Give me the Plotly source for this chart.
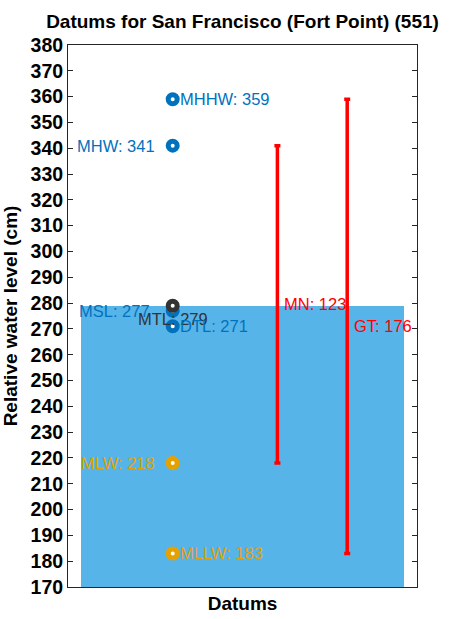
import plotly.graph_objects as go

# Data
datum_names = ["MHHW", "MHW", "MSL", "MTL", "DTL", "MLW", "MLLW"]
datum_values = [359, 341, 277, 279, 271, 218, 183]
datum_colors = ["#0072BD", "#0072BD", "#0072BD", "#333333", "#0072BD", "#E6A100", "#E6A100"]
label_side = ["right", "left", "left", "below", "right", "left", "right"]
range_names = ["MN", "GT"]
range_low = [218, 183]
range_high = [341, 359]
range_values = [123, 176]
bar_value = 279

x_datum = 0.3
x_ranges = [0.6, 0.8]
x_bar = 0.5

fig = go.Figure()
fig.add_trace(go.Bar(x=[x_bar], y=[bar_value - 170], base=[170], width=[0.923],
                     marker=dict(color="#56B4E9", line=dict(width=0)), showlegend=False))

for lo, hi, xr in zip(range_low, range_high, x_ranges):
    mid = (lo + hi) / 2
    fig.add_trace(go.Scatter(x=[xr], y=[mid], mode="markers",
                             marker=dict(size=0.1, color="red"),
                             error_y=dict(type="data", symmetric=True, array=[hi - mid],
                                          color="red", thickness=3.5, width=3),
                             showlegend=False))

for n, v, c in zip(datum_names, datum_values, datum_colors):
    fig.add_trace(go.Scatter(x=[x_datum], y=[v], mode="markers",
                             marker=dict(symbol="circle", size=9, color="white",
                                         line=dict(color=c, width=5)),
                             showlegend=False))

fs = 16.5
annotations = []
for n, v, c, s in zip(datum_names, datum_values, datum_colors, label_side):
    txt = f"{n}: {v}"
    if s == "right":
        annotations.append(dict(x=x_datum, y=v, text=txt, xanchor="left", yanchor="middle",
                                xshift=5, showarrow=False, font=dict(color=c, size=fs)))
    elif s == "left":
        annotations.append(dict(x=x_datum, y=v, text=txt, xanchor="right", yanchor="middle",
                                xshift=-21 if n == "MSL" else -16, showarrow=False,
                                font=dict(color=c, size=fs)))
    else:
        annotations.append(dict(x=x_datum, y=v, text=txt, xanchor="center", yanchor="middle",
                                yshift=-13, showarrow=False, font=dict(color=c, size=fs)))

for n, lo, hi, val, xr in zip(range_names, range_low, range_high, range_values, x_ranges):
    annotations.append(dict(x=xr, y=(lo + hi) / 2, text=f"{n}: {val}", xanchor="left",
                            yanchor="middle", xshift=5, showarrow=False,
                            font=dict(color="red", size=fs)))

fig.update_layout(
    width=450, height=619,
    margin=dict(l=68, r=33, t=45, b=32),
    plot_bgcolor="white", paper_bgcolor="white",
    font=dict(family="Liberation Sans, Arial, sans-serif", color="black"),
    title=dict(text="<b>Datums for San Francisco (Fort Point) (551)</b>", x=0.5, xref="paper",
               xanchor="center", y=0.966, yanchor="middle", font=dict(size=19, color="black")),
    annotations=annotations,
    bargap=0,
)
fig.update_xaxes(range=[0, 1], showticklabels=False, ticks="", showline=True, mirror=True,
                 linecolor="#262626", linewidth=1, showgrid=False, zeroline=False,
                 automargin=False,
                 title=dict(text="<b>Datums</b>", font=dict(size=19), standoff=9))
fig.update_yaxes(range=[170, 380], dtick=10, tick0=170, ticks="inside", ticklen=5,
                 tickcolor="#262626", mirror="ticks", showline=True, linecolor="#262626",
                 linewidth=1, showgrid=False, zeroline=False, automargin=False,
                 tickfont=dict(size=19.5, family="Liberation Sans, Arial, sans-serif"),
                 tickprefix="<b>", ticksuffix="</b>",
                 title=dict(text="<b>Relative water level (cm)</b>", font=dict(size=19), standoff=9))

fig.write_html("out.html", config={"displayModeBar": False},
               post_script="document.body.style.margin='0';document.body.style.overflow='hidden';")
